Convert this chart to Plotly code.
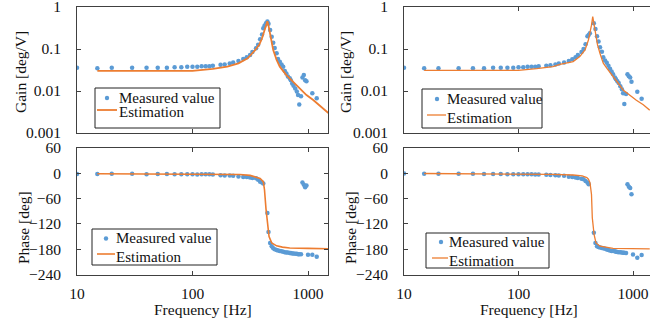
import plotly.graph_objects as go

# ---------------- data ----------------
freq_meas = [10, 15, 20, 30, 40, 50, 60, 70, 80, 90,
             100, 110, 120, 130, 140, 150,
             175, 190, 210, 225, 250, 275, 295, 315, 330, 355,
             370, 385, 400, 410, 420, 433, 445, 455, 470, 485,
             500, 515, 535, 550, 570, 590, 610, 630, 650, 670,
             695, 710, 730, 750, 775, 800, 820, 840, 870, 895,
             920, 945, 970, 1000, 1090, 1190]

gain_meas_left = [0.036, 0.035, 0.036, 0.036, 0.036, 0.036, 0.036, 0.037, 0.037, 0.038,
                  0.038, 0.038, 0.039, 0.039, 0.039, 0.040,
                  0.042, 0.043, 0.045, 0.048, 0.052, 0.058, 0.064, 0.072, 0.085, 0.104,
                  0.127, 0.17, 0.22, 0.31, 0.36, 0.41, 0.45, 0.40, 0.284, 0.196,
                  0.141, 0.105, 0.079, 0.058, 0.050, 0.043, 0.038, 0.030, 0.026, 0.022,
                  0.020, 0.018, 0.015, 0.0133, 0.0115, 0.0097, 0.008, 0.0048, 0.0075, 0.021,
                  0.024, 0.018, 0.017, None, 0.0088, 0.0067]

phase_meas_left = [-1.5, -1.5, -1, -1, -2.5, -1.5, -1.5, -2, -2, -2,
                   -2.5, -3, -2.5, -2.5, -2.5, -3,
                   -4.5, -5.5, -5.5, -6, -7.5, -9, -9, -10, -11, -12,
                   -15, -20, -22, -24, None, None, -94, -139, -165, -173,
                   -178, -180, -182, -183, -184, -185, -186, -187, -188, -188,
                   -189, -189, -190, -190, -191, -191, -192, -192, -192, -22,
                   -27, -33, -29, -193, -193, -198]

gain_meas_right = [0.036, 0.035, 0.035, 0.035, 0.035, 0.035, 0.036, 0.036, 0.036, 0.036,
                   0.037, 0.037, 0.038, 0.038, 0.038, 0.039,
                   0.040, 0.041, 0.043, 0.045, 0.048, 0.052, 0.057, 0.064, 0.072, 0.085,
                   0.10, 0.13, 0.20, 0.215, 0.236, None, None, 0.41, 0.30, 0.20,
                   0.15, 0.11, 0.086, 0.064, 0.053, 0.047, 0.040, 0.034, 0.029, 0.025,
                   0.021, 0.019, 0.017, 0.0155, 0.013, 0.011, 0.0088, 0.0049, 0.0085, 0.025,
                   0.0226, 0.021, 0.0166, None, 0.0096, 0.0065]

phase_meas_right = [-0.5, -1, -1, -1, -1, -1.5, -1.5, -1.5, -2, -2,
                    -2, -2.5, -2.5, -2.5, -3, -3,
                    -3.5, -4, -4.5, -5, -6, -8, -9, -10, -11, -13,
                    -14, -18, -22, -26, None, None, None, -141, -165, -173,
                    -175, -176, -177, -178, -179, -180.5, -182, -183, -184, -184.5,
                    -185, -186, -186.5, -187, -187.5, -188, -188.5, -188.5, -189, -26,
                    -32, -35, -49.5, -192.5, -200, -194]

freq_est_gain_left = [15, 30, 50, 100, 150, 200, 250, 300, 350, 380, 400, 420, 435, 445,
                      455, 470, 500, 535, 570, 650, 745, 850, 970, 1110, 1270, 1500]
gain_est_left = [0.030, 0.030, 0.030, 0.030, 0.0335, 0.038, 0.0456, 0.060, 0.095, 0.13, 0.18,
                 0.27, 0.37, 0.46, 0.36, 0.236, 0.095, 0.055, 0.038, 0.024, 0.0166, 0.011,
                 0.008, 0.0061, 0.0044, 0.0030]

freq_est_phase_left = [15, 50, 100, 200, 257, 315, 360, 385, 410, 420, 433, 445, 460, 485,
                       535, 600, 695, 1000, 1500]
phase_est_left = [-1, -1.5, -1.5, -2.5, -3, -5, -9, -12, -20, -39, -85, -118, -150, -165,
                  -172, -175, -177, -178, -179]

freq_est_gain_right = [15, 50, 100, 144, 200, 230, 300, 343, 381, 408, 421, 434, 445, 457,
                       470, 490, 516, 550, 590, 650, 740, 820, 935, 1070, 1230, 1400]
gain_est_right = [0.031, 0.031, 0.031, 0.034, 0.038, 0.043, 0.050, 0.066, 0.095, 0.164, 0.236,
                  0.37, 0.59, 0.37, 0.236, 0.125, 0.077, 0.046, 0.035, 0.024, 0.0155, 0.0106,
                  0.008, 0.006, 0.0047, 0.0035]

freq_est_phase_right = [15, 100, 200, 300, 360, 395, 408, 421, 434, 441, 457, 475, 516, 670,
                        1000, 1400]
phase_est_right = [-0.5, -1.5, -2.5, -4, -6, -10, -14, -22, -50, -105, -145, -165, -173,
                   -178, -179, -179]

gain_ticks = [0.001, 0.01, 0.1, 1]
gain_tick_text = ["0.001", "0.01", "0.1", "1"]
phase_ticks = [-240, -180, -120, -60, 0, 60]
freq_ticks = [10, 100, 1000]
freq_tick_text = ["10", "100", "1000"]

label_meas = "Measured value"
label_est = "Estimation"
title_gain = "Gain [deg/V]"
title_phase = "Phase [deg]"
title_freq = "Frequency [Hz]"

# ---------------- styling ----------------
W, H = 650, 322
FONT = "Liberation Serif"
FS = 15.5
FS_LEG = 15
BLUE = "#5B9BD5"
ORANGE = "#ED7D31"
AX = "#404040"


def px_x(p):
    return p / W


def px_y(p):
    return (H - p) / H


fig = go.Figure()

panels = [
    ("x", "y", gain_meas_left, freq_est_gain_left, gain_est_left, 1.8),
    ("x2", "y2", phase_meas_left, freq_est_phase_left, phase_est_left, 1.6),
    ("x3", "y3", gain_meas_right, freq_est_gain_right, gain_est_right, 1.3),
    ("x4", "y4", phase_meas_right, freq_est_phase_right, phase_est_right, 1.3),
]

for xa, ya, my, ef, ey, lw in panels:
    fig.add_trace(go.Scatter(x=freq_meas, y=my, mode="markers", name=label_meas,
                             marker=dict(color=BLUE, size=4.5), xaxis=xa, yaxis=ya,
                             showlegend=False))
    fig.add_trace(go.Scatter(x=ef, y=ey, mode="lines", name=label_est,
                             line=dict(color=ORANGE, width=lw), xaxis=xa, yaxis=ya,
                             showlegend=False))

common_ax = dict(showgrid=False, zeroline=False, showline=True, linecolor=AX, linewidth=1,
                 ticks="inside", ticklen=4, tickcolor=AX, tickwidth=1, automargin=False,
                 ticklabeloverflow="allow",
                 tickfont=dict(family=FONT, size=FS, color="#111"))

left_dom = [px_x(77), px_x(328)]
right_dom = [px_x(404), 1.0]
top_dom = [px_y(133), px_y(7)]
bot_dom = [px_y(274.5), px_y(148)]

left_range = [1, 1 + (328 - 77) / 115.5]
right_range = [1, 1 + (650 - 404) / 114.5]

fig.update_layout(
    xaxis=dict(common_ax, type="log", domain=left_dom, range=left_range, anchor="y",
               tickvals=freq_ticks, showticklabels=False, mirror=True),
    yaxis=dict(common_ax, type="log", domain=top_dom, range=[-3, 0], anchor="x",
               tickvals=gain_ticks, ticktext=gain_tick_text, mirror="ticks",
               ticklabelstandoff=12),
    xaxis2=dict(common_ax, type="log", domain=left_dom, range=left_range, anchor="y2",
                tickvals=freq_ticks, ticktext=freq_tick_text, mirror="ticks",
                ticklabelstandoff=5),
    yaxis2=dict(common_ax, domain=bot_dom, range=[-240, 60], anchor="x2",
                tickvals=phase_ticks, mirror="ticks", ticklabelstandoff=12),
    xaxis3=dict(common_ax, type="log", domain=right_dom, range=right_range, anchor="y3",
                tickvals=freq_ticks, showticklabels=False, mirror="ticks"),
    yaxis3=dict(common_ax, type="log", domain=top_dom, range=[-3, 0], anchor="x3",
                tickvals=gain_ticks, ticktext=gain_tick_text, mirror=False,
                ticklabelstandoff=12),
    xaxis4=dict(common_ax, type="log", domain=right_dom, range=right_range, anchor="y4",
                tickvals=freq_ticks, ticktext=freq_tick_text, mirror="ticks",
                ticklabelstandoff=5),
    yaxis4=dict(common_ax, domain=bot_dom, range=[-240, 60], anchor="x4",
                tickvals=phase_ticks, mirror=False, ticklabelstandoff=12),
)

# ---------------- legend boxes (one per panel) ----------------
# (box left, top, right, bottom, symbol x, row1 y, line x0, line x1, row2 y, text x, line width)
legend_boxes = [
    (95, 88, 220, 128, 107, 98, 97, 117, 110, 118, 1.8),
    (92, 229, 217, 265, 106, 238.5, 97, 115, 254, 115, 1.6),
    (422, 89, 542, 128, 437, 99, 427, 446, 115, 446, 1.3),
    (426, 233, 549, 268, 441, 242, 432, 448, 258, 448, 1.3),
]
shapes = []
annots = []
for bl, bt, br, bb, sx, r1, lx0, lx1, r2, tx, lw in legend_boxes:
    shapes.append(dict(type="rect", xref="paper", yref="paper",
                       x0=px_x(bl), x1=px_x(br), y0=px_y(bb), y1=px_y(bt),
                       line=dict(color="#222", width=1), fillcolor="white", layer="above"))
    shapes.append(dict(type="circle", xref="paper", yref="paper",
                       x0=px_x(sx - 2.2), x1=px_x(sx + 2.2), y0=px_y(r1 + 2.2), y1=px_y(r1 - 2.2),
                       line=dict(width=0), fillcolor=BLUE, layer="above"))
    shapes.append(dict(type="line", xref="paper", yref="paper",
                       x0=px_x(lx0), x1=px_x(lx1), y0=px_y(r2), y1=px_y(r2),
                       line=dict(color=ORANGE, width=lw), layer="above"))
    annots.append((px_x(tx), px_y(r1), label_meas, 0, "left", FS_LEG))
    annots.append((px_x(tx), px_y(r2 + 2.5), label_est, 0, "left", FS_LEG))

annots += [
    (px_x(20), px_y(72), title_gain, -90, "center", FS),
    (px_x(23), px_y(228), title_phase, -90, "center", FS),
    (px_x(345), px_y(72), title_gain, -90, "center", FS),
    (px_x(350), px_y(228), title_phase, -90, "center", FS),
    (px_x(202.5), px_y(309), title_freq, 0, "center", FS),
    (px_x(529), px_y(309), title_freq, 0, "center", FS),
]
for ax_, ay_, txt, ang, xa, fs in annots:
    fig.add_annotation(x=ax_, y=ay_, xref="paper", yref="paper", text=txt, showarrow=False,
                       textangle=ang, xanchor=xa, yanchor="middle", borderpad=0,
                       font=dict(family=FONT, size=fs, color="#111"))

fig.update_layout(width=W, height=H, margin=dict(l=0, r=0, t=0, b=0),
                  paper_bgcolor="white", plot_bgcolor="white", showlegend=False,
                  shapes=shapes)

fig.write_html("out.html", config={"displayModeBar": False},
               post_script="document.body.style.margin='0';document.body.style.overflow='hidden';")
